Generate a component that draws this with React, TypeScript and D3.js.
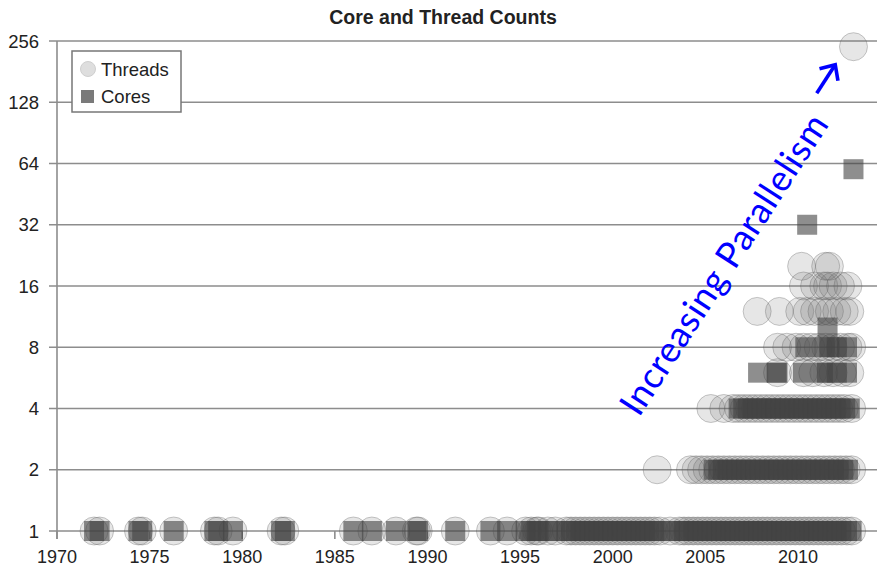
import React from 'react';
import * as d3 from 'd3';

const W = 877;
const H = 572;

const TITLE = 'Core and Thread Counts';
const X_TICKS = [1970, 1975, 1980, 1985, 1990, 1995, 2000, 2005, 2010];
const Y_TICKS = [1, 2, 4, 8, 16, 32, 64, 128, 256];
const LEGEND = ['Threads', 'Cores'];
const ANNOTATION = 'Increasing Parallelism';

// Release years of processors, grouped by hardware thread count.
const THREADS_1 = [
  1972.0, 1972.3, 1974.4, 1974.6, 1976.3, 1978.5, 1978.7, 1979.5, 1982.1, 1982.3,
  1986.0, 1987.0, 1988.3, 1989.4, 1989.5, 1991.5,
  1993.4, 1994.3, 1995.3, 1995.6, 1995.9, 1996.0, 1996.5, 1996.9,
  1997.5, 1997.75, 1998.0, 1998.25, 1998.5, 1998.75, 1999.0, 1999.25, 1999.5, 1999.75,
  2000.0, 2000.25, 2000.5, 2000.75, 2001.0, 2001.25, 2001.5, 2001.75, 2002.0, 2002.25,
  2002.55, 2003.1, 2003.6, 2003.85, 2004.1, 2004.35, 2004.6, 2004.85, 2005.1, 2005.35,
  2005.6, 2005.85, 2006.1, 2006.35, 2006.6, 2006.85, 2007.1, 2007.35, 2007.6, 2007.85,
  2008.1, 2008.35, 2008.6, 2008.85, 2009.1, 2009.35, 2009.6, 2009.85, 2010.1, 2010.35,
  2010.6, 2010.85, 2011.1, 2011.35, 2011.6, 2011.85, 2012.1, 2012.35, 2012.65, 2012.9,
];
const THREADS_2 = [
  2002.4, 2004.2, 2004.5, 2004.8, 2005.1, 2005.4, 2005.7, 2006.0, 2006.3, 2006.6,
  2006.9, 2007.2, 2007.5, 2007.8, 2008.1, 2008.4, 2008.7, 2009.0, 2009.3, 2009.6,
  2009.9, 2010.2, 2010.5, 2010.8, 2011.1, 2011.4, 2011.7, 2012.0, 2012.3, 2012.6, 2012.9,
];
const THREADS_4 = [
  2005.3, 2006.0, 2006.5, 2006.8, 2007.1, 2007.4, 2007.7, 2008.0, 2008.3, 2008.6,
  2008.9, 2009.2, 2009.5, 2009.8, 2010.1, 2010.4, 2010.7, 2011.0, 2011.3, 2011.6,
  2011.9, 2012.2, 2012.5, 2012.9,
];
const THREADS_6 = [2008.9, 2010.3, 2010.8, 2011.4, 2011.9, 2012.4, 2012.8];
const THREADS_8 = [2008.9, 2009.4, 2009.9, 2010.3, 2010.7, 2011.1, 2011.5, 2011.9, 2012.3, 2012.7, 2012.9];
const THREADS_12 = [2007.8, 2009.0, 2010.1, 2010.5, 2010.9, 2011.3, 2011.7, 2012.1, 2012.5, 2012.8];
const THREADS_16 = [2010.3, 2010.9, 2011.4, 2011.6, 2011.9, 2012.3, 2012.7];
const THREADS_20 = [2010.2, 2011.5, 2011.7];
const THREADS_240 = [2013.0];

// Release years of processors, grouped by core count.
const CORES_1 = THREADS_1;
const CORES_2 = [
  2005.45, 2005.7, 2005.95, 2006.2, 2006.45, 2006.7, 2006.95, 2007.2, 2007.45, 2007.7,
  2007.95, 2008.2, 2008.45, 2008.7, 2008.95, 2009.2, 2009.45, 2009.7, 2009.95, 2010.2,
  2010.45, 2010.7, 2010.95, 2011.2, 2011.45, 2011.7, 2011.95, 2012.2, 2012.45, 2012.7,
];
const CORES_4 = [
  2006.8, 2007.05, 2007.3, 2007.55, 2007.8, 2008.05, 2008.3, 2008.55, 2008.8, 2009.05,
  2009.3, 2009.55, 2009.8, 2010.05, 2010.3, 2010.55, 2010.8, 2011.05, 2011.3, 2011.55,
  2011.8, 2012.05, 2012.3, 2012.55, 2012.8,
];
const CORES_6 = [2007.85, 2008.85, 2008.9, 2010.27, 2011.35, 2011.57, 2012.1, 2012.65];
const CORES_8 = [2010.4, 2011.45, 2011.7, 2012.1, 2012.65];
const CORES_10 = [2011.6];
const CORES_32 = [2010.5];
const CORES_60 = [2013.0];

const THREAD_SERIES: [number, number[]][] = [
  [1, THREADS_1], [2, THREADS_2], [4, THREADS_4], [6, THREADS_6], [8, THREADS_8],
  [12, THREADS_12], [16, THREADS_16], [20, THREADS_20], [240, THREADS_240],
];
const CORE_SERIES: [number, number[]][] = [
  [1, CORES_1], [2, CORES_2], [4, CORES_4], [6, CORES_6], [8, CORES_8],
  [10, CORES_10], [32, CORES_32], [60, CORES_60],
];

const FONT = '"Liberation Sans", Arial, Helvetica, sans-serif';
const GRID = '#8d8d8d';
const TEXT = '#222';
const BLUE = '#0000ff';

export default function App() {
  const x = d3.scaleLinear().domain([1970, 2014.27]).range([57, 877]);
  const y = d3.scaleLog().base(2).domain([1, 256]).range([531, 41]);

  const threads = THREAD_SERIES.flatMap(([v, years]) => years.map((yr) => ({ yr, v })));
  const cores = CORE_SERIES.flatMap(([v, years]) => years.map((yr) => ({ yr, v })));

  const R = 14;
  const S = 20;

  return (
    <svg
      width={W}
      height={H}
      viewBox={`0 0 ${W} ${H}`}
      style={{ position: 'absolute', left: 0, top: 0, background: '#fff' }}
      fontFamily={FONT}
    >
      <rect width={W} height={H} fill="#fff" />
      <text x={443} y={24} textAnchor="middle" fontSize={19.5} fontWeight="bold" fill={TEXT}>
        {TITLE}
      </text>

      {/* horizontal gridlines and y labels */}
      {Y_TICKS.map((t) => (
        <g key={`y${t}`}>
          <line x1={49} x2={W} y1={y(t)} y2={y(t)} stroke={GRID} strokeWidth={1.6} />
          <text x={39} y={y(t) + 6.5} textAnchor="end" fontSize={18.5} fill={TEXT}>
            {t}
          </text>
        </g>
      ))}

      {/* vertical axis and x ticks */}
      <line x1={x(1970)} x2={x(1970)} y1={y(256)} y2={y(1) + 8} stroke={GRID} strokeWidth={1.6} />
      {X_TICKS.map((t) => (
        <g key={`x${t}`}>
          <line x1={x(t)} x2={x(t)} y1={y(1)} y2={y(1) + 8} stroke={GRID} strokeWidth={1.6} />
          <text x={x(t)} y={563} textAnchor="middle" fontSize={18} fill={TEXT}>
            {t}
          </text>
        </g>
      ))}

      {/* thread counts */}
      <g>
        {threads.map((d, i) => (
          <circle
            key={`t${i}`}
            cx={x(d.yr)}
            cy={y(d.v)}
            r={R}
            fill="rgb(105,105,105)"
            fillOpacity={0.17}
            stroke="rgb(90,90,90)"
            strokeOpacity={0.32}
            strokeWidth={1}
          />
        ))}
      </g>

      {/* core counts */}
      <g>
        {cores.map((d, i) => (
          <rect
            key={`c${i}`}
            x={x(d.yr) - S / 2}
            y={y(d.v) - S / 2}
            width={S}
            height={S}
            fill="rgb(66,66,66)"
            fillOpacity={0.6}
          />
        ))}
      </g>

      {/* legend */}
      <g>
        <rect x={72} y={51} width={109} height={61} fill="#fff" stroke="#777" strokeWidth={1.5} />
        <circle cx={88} cy={69} r={7.5} fill="#dedede" stroke="#cfcfcf" strokeWidth={1} />
        <rect x={81} y={90} width={13} height={13} fill="#7a7a7a" />
        <text x={101} y={76} fontSize={18.5} fill={TEXT}>{LEGEND[0]}</text>
        <text x={101} y={103} fontSize={18.5} fill={TEXT}>{LEGEND[1]}</text>
      </g>

      {/* annotation */}
      <text
        transform="translate(639,418) rotate(-57)"
        fontFamily="Lato, 'Open Sans', sans-serif"
        fontSize={36}
        fill={BLUE}
        textLength={350}
        lengthAdjust="spacing"
      >
        {ANNOTATION}
      </text>
      <g transform="translate(826,79) rotate(-57)" fill="none" stroke={BLUE} strokeWidth={3.6}>
        <path d="M-17,0 L16,0" />
        <path d="M5,-11 L17,0 L5,11" strokeLinejoin="miter" />
      </g>
    </svg>
  );
}
